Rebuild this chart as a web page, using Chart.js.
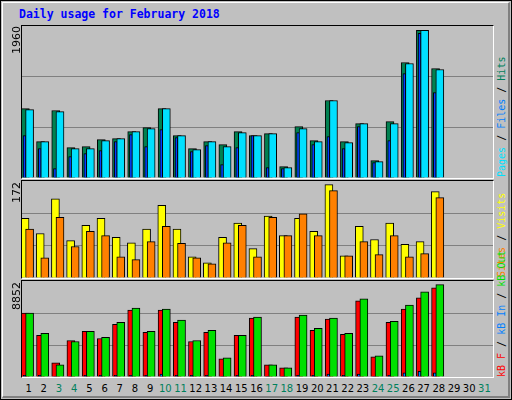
<!DOCTYPE html>
<html>
<head>
<meta charset="utf-8">
<script src="https://cdn.jsdelivr.net/npm/chart.js@4"></script>
<style>
  body { margin: 0; background: #fff; }
  #wrap { position: relative; width: 510px; height: 398px; background: #C0C0C0; border: 1px solid #000; overflow: hidden; }
  #wrap:before { content: ''; position: absolute; left: 1px; top: 1px; right: 1px; bottom: 1px; border-top: 1px solid #fff; border-left: 1px solid #fff; border-right: 2px solid #808080; border-bottom: 2px solid #808080; }
  .panel { position: absolute; left: 20px; width: 471px; border-top: 1px solid #000; border-left: 1px solid #000; border-right: 1px solid #fff; border-bottom: 1px solid #fff; }
  .panel canvas { display: block; }
  .t { position: absolute; font-family: "DejaVu Sans Mono", monospace; font-size: 10px; white-space: nowrap; }
  .rot { transform-origin: 0 0; transform: rotate(-90deg); }
  #title { left: 18px; top: 6px; color: #0000FF; font-weight: bold; font-size: 11.5px; }
  .day { position: absolute; top: 382px; width: 15px; text-align: center; font-family: "DejaVu Sans", sans-serif; font-size: 10px; }
</style>
</head>
<body>
<div id="wrap">
  <div id="title" class="t">Daily usage for February 2018</div>
  <div class="panel" style="top:24px;height:152px"><canvas id="c1" width="471" height="152"></canvas></div>
  <div class="panel" style="top:179px;height:97px"><canvas id="c2" width="471" height="97"></canvas></div>
  <div class="panel" style="top:279px;height:96px"><canvas id="c3" width="471" height="96"></canvas></div>
</div>
<script>
const days = [1,2,3,4,5,6,7,8,9,10,11,12,13,14,15,16,17,18,19,20,21,22,23,24,25,26,27,28,29,30,31];
const weekend = [3,4,10,11,17,18,24,25,31];
const hits  = [922,483,896,403,417,510,523,616,670,922,563,390,483,443,616,563,590,151,683,497,1029,483,723,231,749,1534,1960,1454];
const files = [909,483,882,390,390,497,523,616,656,922,563,377,483,417,603,563,590,137,656,483,1029,470,723,217,723,1521,1960,1441];
const pages = [563,390,124,284,324,364,483,576,417,643,537,350,430,177,403,563,137,124,603,443,550,390,683,204,497,1388,1920,1135];
const visits = [110,82,146,69,97,110,75,65,90,134,90,39,28,75,101,54,114,78,110,86,172,41,95,71,101,62,67,159];
const sites  = [90,37,112,58,86,78,39,34,67,95,64,37,26,65,97,39,112,78,118,78,161,41,67,43,78,39,45,148];
const kbF   = [6128,3988,1362,3502,4377,3696,5058,6419,4280,6419,5252,3404,4280,1751,3988,5641,1167,875,5738,4474,5544,4085,7295,1945,5252,6516,7586,8559];
const kbIn  = [150,150,40,40,150,150,150,150,150,290,150,150,150,40,150,150,40,40,150,150,290,150,290,40,150,390,550,390];
const kbOut = [6128,4182,1167,3404,4377,3793,5252,6614,4377,6516,5447,3502,4474,1848,3988,5738,1167,875,5933,4669,5641,4182,7489,2042,5349,6906,8170,8852];

const wrap = document.getElementById('wrap');

function pts(arr) { return arr.map((v, i) => ({ x: days[i], y: v })); }

function xAxis(shift) {
  return { type: 'linear', display: false, offset: false, min: 0.5 + shift, max: 31.5 + shift };
}

function makeChart(id, sets, top) {
  const scales = { y: {
    min: 0, max: top, ticks: { display: false, stepSize: top / 3 },
    border: { display: false },
    grid: { color: c => (c.index === 1 || c.index === 2) ? '#808080' : 'rgba(0,0,0,0)', drawTicks: false, lineWidth: 1 },
    afterFit: s => { s.width = 0; }
  } };
  sets.forEach(s => { scales[s.xAxisID] = xAxis(s.shift); });
  new Chart(document.getElementById(id), {
    type: 'bar',
    data: { datasets: sets.map(s => ({
      data: pts(s.data), xAxisID: s.xAxisID, backgroundColor: s.color,
      borderColor: '#000', borderWidth: 1, borderSkipped: 'bottom',
      barThickness: s.w, grouped: false
    })) },
    options: {
      responsive: false, animation: false, events: [],
      layout: { padding: 0 },
      plugins: { legend: { display: false }, tooltip: { enabled: false } },
      scales
    }
  });
}

makeChart('c1', [
  { data: files, color: '#00E0FF', w: 8, xAxisID: 'xf', shift: 0 },
  { data: pages, color: '#0040FF', w: 3, xAxisID: 'xp', shift: 0.33 },
  { data: hits,  color: '#008050', w: 8, xAxisID: 'xh', shift: 0.28 }
], Math.max(...hits) * 1.03);

makeChart('c2', [
  { data: sites,  color: '#FF8000', w: 8, xAxisID: 'xs', shift: 0 },
  { data: visits, color: '#FFFF00', w: 8, xAxisID: 'xv', shift: 0.3 }
], Math.max(...visits) * 1.039);

makeChart('c3', [
  { data: kbOut, color: '#00E000', w: 8, xAxisID: 'xo', shift: 0 },
  { data: kbIn,  color: '#0080FF', w: 3, xAxisID: 'xi', shift: 0.33 },
  { data: kbF,   color: '#FF0000', w: 8, xAxisID: 'xk', shift: 0.28 }
], Math.max(...kbOut) * 1.04);

// day labels
days.forEach((d, i) => {
  const el = document.createElement('div');
  el.className = 'day';
  el.style.left = (20 + 471 * (i + 0.5) / 31 - 7.5) + 'px';
  el.style.color = weekend.includes(d) ? '#00805C' : '#000';
  el.textContent = d;
  wrap.appendChild(el);
});

// max labels on the left, rotated
function maxLabel(v, y) {
  const el = document.createElement('div');
  el.className = 't rot';
  el.style.font = '11px "DejaVu Sans", sans-serif';
  el.style.left = '9px';
  el.style.top = y + 'px';
  el.textContent = v;
  wrap.appendChild(el);
  el.style.top = (y + el.offsetWidth) + 'px';
}
maxLabel(Math.max(...hits), 25);
maxLabel(Math.max(...visits), 181);
maxLabel(Math.max(...kbOut), 281);

// right-side legends, rotated, reading bottom to top
function legend(parts, bottom) {
  const el = document.createElement('div');
  el.className = 't rot';
  el.style.left = '495px';
  el.innerHTML = parts.map(p => '<span style="color:' + p[1] + '">' + p[0] + '</span>').join('');
  el.style.top = bottom + 'px';
  wrap.appendChild(el);
}
legend([['Pages', '#00E0FF'], [' / ', '#000'], ['Files', '#0080FF'], [' / ', '#000'], ['Hits', '#00805C']], 176);
legend([['Sites', '#FF8000'], [' / ', '#000'], ['Visits', '#FFFF00']], 276);
legend([['kB F', '#FF0000'], [' / ', '#000'], ['kB In', '#0080FF'], [' / ', '#000'], ['kB Out', '#00E000']], 376);
</script>
</body>
</html>
